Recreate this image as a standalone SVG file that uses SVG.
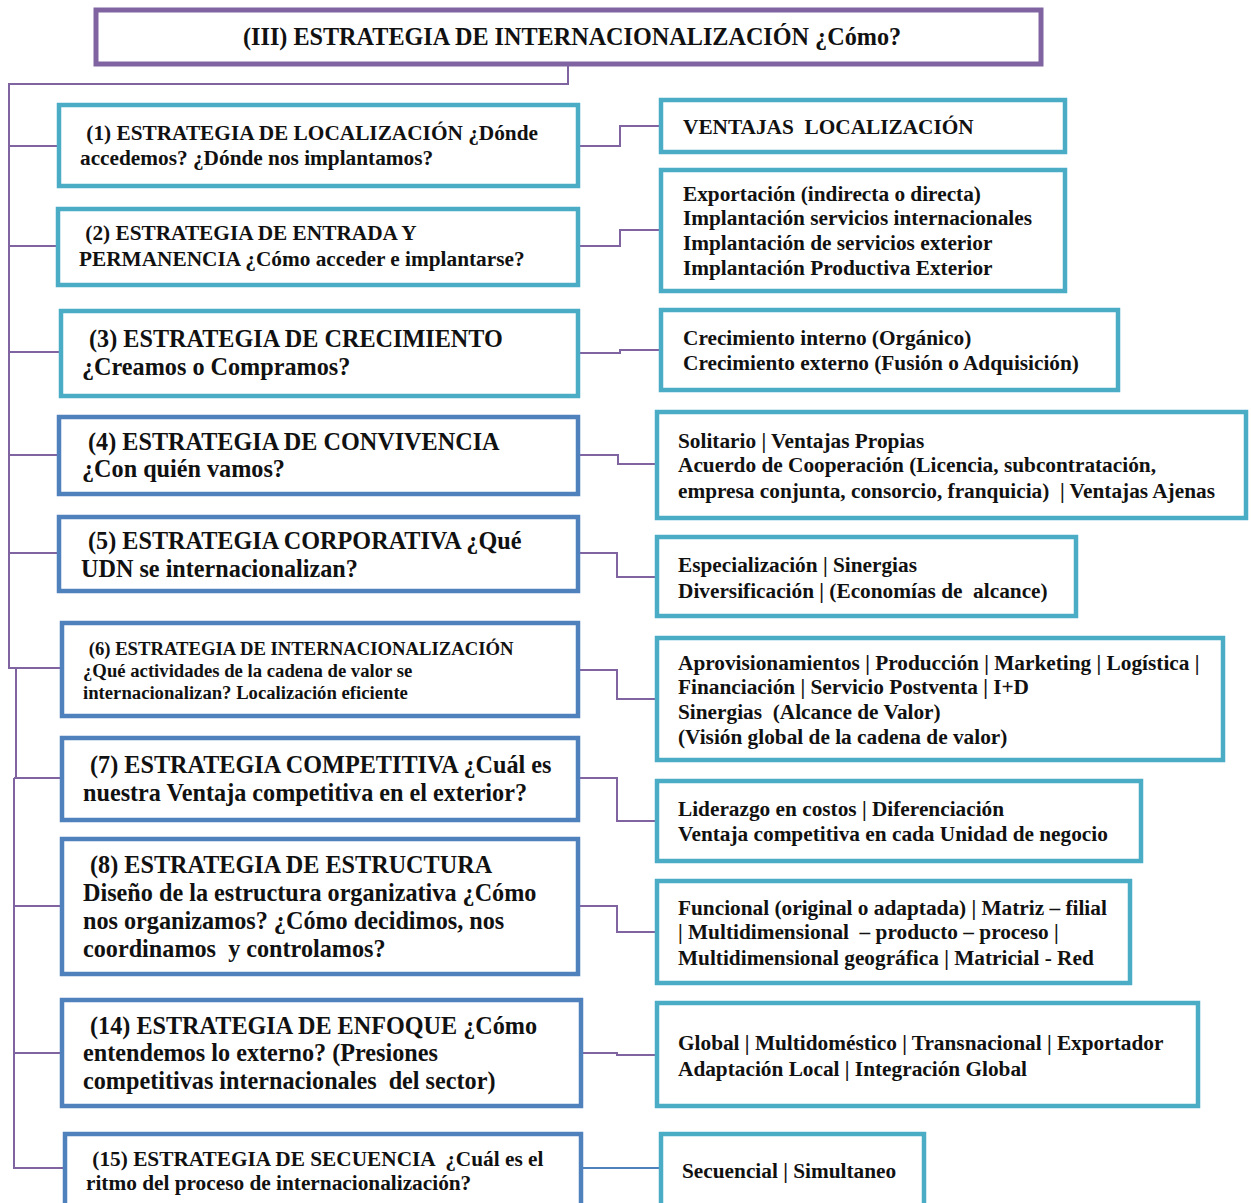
<svg xmlns="http://www.w3.org/2000/svg" width="1251" height="1203" viewBox="0 0 1251 1203">
<style>
text{font-family:"Liberation Serif","Times New Roman",serif;font-weight:bold;fill:#111;white-space:pre}
.t{stroke:#4BACC6;stroke-width:4.5;fill:#fff}
.b{stroke:#4F81BD;stroke-width:4.5;fill:#fff}
.p{stroke:#8064A2;stroke-width:5;fill:#fff}
.c{stroke:#8064A2;stroke-width:2;fill:none}
.cb{stroke:#4F81BD;stroke-width:2;fill:none}
.s19{font-size:21.3px}
.s22{font-size:24.2px}
.s16{font-size:18.7px}
</style>
<rect width="1251" height="1203" fill="#fff"/>
<g id="connectors">
<polyline class="c" points="568,66 568,84 9,84 9,668 60,668"/>
<line class="c" x1="9" y1="146" x2="57" y2="146"/>
<line class="c" x1="9" y1="246" x2="56" y2="246"/>
<line class="c" x1="9" y1="352" x2="59" y2="352"/>
<line class="c" x1="9" y1="455" x2="57" y2="455"/>
<line class="c" x1="9" y1="553" x2="57" y2="553"/>
<polyline class="c" points="16,668 16,778"/>
<polyline class="c" points="14,778 14,1168 63,1168"/>
<line class="c" x1="14" y1="778" x2="60" y2="778"/>
<line class="c" x1="14" y1="906" x2="60" y2="906"/>
<line class="c" x1="14" y1="1053" x2="60" y2="1053"/>
<polyline class="c" points="580,146 620,146 620,126 659,126"/>
<polyline class="c" points="580,246 620,246 620,230 659,230"/>
<polyline class="c" points="580,353 620,353 620,350 659,350"/>
<polyline class="c" points="580,455 618,455 618,464 655,464"/>
<polyline class="c" points="580,553 617,553 617,577 655,577"/>
<polyline class="c" points="580,670 617,670 617,699 655,699"/>
<polyline class="c" points="580,778 617,778 617,821 655,821"/>
<polyline class="c" points="580,906 617,906 617,932 655,932"/>
<polyline class="c" points="583,1053 617,1053 617,1055 655,1055"/>
<line class="cb" x1="583" y1="1168" x2="659" y2="1168"/>
</g>
<g id="title">
<rect class="p" x="96" y="10" width="945" height="54"/>
<text class="s22" x="243" y="45">(III) ESTRATEGIA DE INTERNACIONALIZACIÓN ¿Cómo?</text>
</g>
<g id="n1">
<rect class="t" x="59" y="105" width="519" height="81"/>
<text class="s19" x="81" y="140"> (1) ESTRATEGIA DE LOCALIZACIÓN ¿Dónde</text>
<text class="s19" x="80" y="165">accedemos? ¿Dónde nos implantamos?</text>
</g>
<g id="n2">
<rect class="t" x="58" y="209" width="520" height="76"/>
<text class="s19" x="80" y="240"> (2) ESTRATEGIA DE ENTRADA Y</text>
<text class="s19" x="79" y="266">PERMANENCIA ¿Cómo acceder e implantarse?</text>
</g>
<g id="n3">
<rect class="t" x="61" y="311" width="517" height="85"/>
<text class="s22" x="83" y="347"> (3) ESTRATEGIA DE CRECIMIENTO</text>
<text class="s22" x="82" y="375">¿Creamos o Compramos?</text>
</g>
<g id="n4">
<rect class="b" x="59" y="417" width="519" height="77"/>
<text class="s22" x="82" y="450"> (4) ESTRATEGIA DE CONVIVENCIA</text>
<text class="s22" x="82" y="477">¿Con quién vamos?</text>
</g>
<g id="n5">
<rect class="b" x="59" y="517" width="519" height="74"/>
<text class="s22" x="82" y="549"> (5) ESTRATEGIA CORPORATIVA ¿Qué</text>
<text class="s22" x="81" y="577">UDN se internacionalizan?</text>
</g>
<g id="n6">
<rect class="b" x="62" y="623" width="516" height="93"/>
<text class="s16" x="84" y="655"> (6) ESTRATEGIA DE INTERNACIONALIZACIÓN</text>
<text class="s16" x="83" y="677">¿Qué actividades de la cadena de valor se</text>
<text class="s16" x="83" y="699">internacionalizan? Localización eficiente</text>
</g>
<g id="n7">
<rect class="b" x="62" y="738" width="516" height="82"/>
<text class="s22" x="84" y="773"> (7) ESTRATEGIA COMPETITIVA ¿Cuál es</text>
<text class="s22" x="83" y="801">nuestra Ventaja competitiva en el exterior?</text>
</g>
<g id="n8">
<rect class="b" x="62" y="839" width="516" height="135"/>
<text class="s22" x="84" y="873"> (8) ESTRATEGIA DE ESTRUCTURA</text>
<text class="s22" x="83" y="901">Diseño de la estructura organizativa ¿Cómo</text>
<text class="s22" x="83" y="929">nos organizamos? ¿Cómo decidimos, nos</text>
<text class="s22" x="83" y="957">coordinamos  y controlamos?</text>
</g>
<g id="n14">
<rect class="b" x="62" y="1000" width="519" height="106"/>
<text class="s22" x="84" y="1034"> (14) ESTRATEGIA DE ENFOQUE ¿Cómo</text>
<text class="s22" x="83" y="1061">entendemos lo externo? (Presiones</text>
<text class="s22" x="83" y="1089">competitivas internacionales  del sector)</text>
</g>
<g id="n15">
<rect class="b" x="65" y="1134" width="516" height="90"/>
<text class="s19" x="87" y="1166"> (15) ESTRATEGIA DE SECUENCIA  ¿Cuál es el</text>
<text class="s19" x="86" y="1190">ritmo del proceso de internacionalización?</text>
</g>
<g id="r1">
<rect class="t" x="661" y="100" width="404" height="52"/>
<text class="s19" x="683" y="134">VENTAJAS  LOCALIZACIÓN</text>
</g>
<g id="r2">
<rect class="t" x="661" y="170" width="404" height="121"/>
<text class="s19" x="683" y="201">Exportación (indirecta o directa)</text>
<text class="s19" x="683" y="225">Implantación servicios internacionales</text>
<text class="s19" x="683" y="250">Implantación de servicios exterior</text>
<text class="s19" x="683" y="275">Implantación Productiva Exterior</text>
</g>
<g id="r3">
<rect class="t" x="661" y="310" width="457" height="80"/>
<text class="s19" x="683" y="345">Crecimiento interno (Orgánico)</text>
<text class="s19" x="683" y="370">Crecimiento externo (Fusión o Adquisición)</text>
</g>
<g id="r4">
<rect class="t" x="657" y="412" width="589" height="106"/>
<text class="s19" x="678" y="448">Solitario | Ventajas Propias</text>
<text class="s19" x="678" y="472">Acuerdo de Cooperación (Licencia, subcontratación,</text>
<text class="s19" x="678" y="498">empresa conjunta, consorcio, franquicia)  | Ventajas Ajenas</text>
</g>
<g id="r5">
<rect class="t" x="657" y="537" width="419" height="79"/>
<text class="s19" x="678" y="572">Especialización | Sinergias</text>
<text class="s19" x="678" y="598">Diversificación | (Economías de  alcance)</text>
</g>
<g id="r6">
<rect class="t" x="657" y="638" width="566" height="122"/>
<text class="s19" x="678" y="670">Aprovisionamientos | Producción | Marketing | Logística |</text>
<text class="s19" x="678" y="694">Financiación | Servicio Postventa | I+D</text>
<text class="s19" x="678" y="719">Sinergias  (Alcance de Valor)</text>
<text class="s19" x="678" y="744">(Visión global de la cadena de valor)</text>
</g>
<g id="r7">
<rect class="t" x="657" y="781" width="484" height="80"/>
<text class="s19" x="678" y="816">Liderazgo en costos | Diferenciación</text>
<text class="s19" x="678" y="841">Ventaja competitiva en cada Unidad de negocio</text>
</g>
<g id="r8">
<rect class="t" x="657" y="881" width="473" height="102"/>
<text class="s19" x="678" y="915">Funcional (original o adaptada) | Matriz – filial</text>
<text class="s19" x="678" y="939">| Multidimensional  – producto – proceso |</text>
<text class="s19" x="678" y="965">Multidimensional geográfica | Matricial - Red</text>
</g>
<g id="r9">
<rect class="t" x="657" y="1003" width="541" height="103"/>
<text class="s19" x="678" y="1050">Global | Multidoméstico | Transnacional | Exportador</text>
<text class="s19" x="678" y="1076">Adaptación Local | Integración Global</text>
</g>
<g id="r10">
<rect class="t" x="661" y="1134" width="263" height="90"/>
<text class="s19" x="682" y="1178">Secuencial | Simultaneo</text>
</g>
</svg>
